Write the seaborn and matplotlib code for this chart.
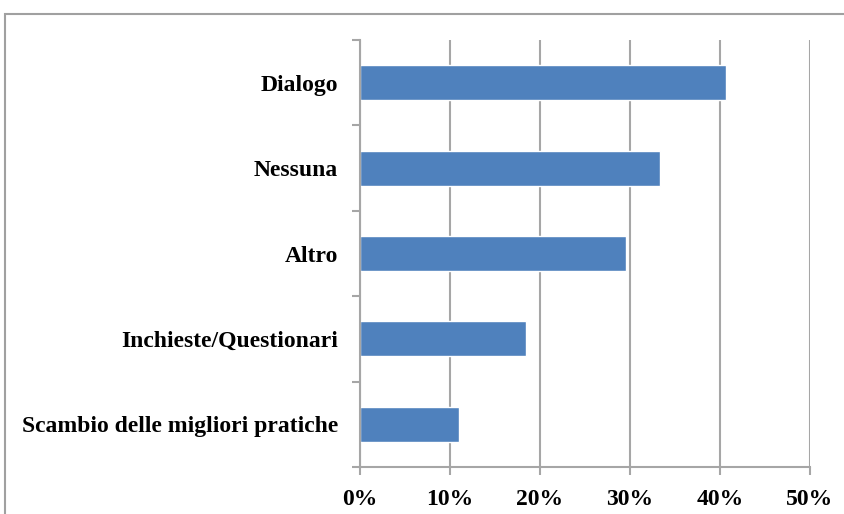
import matplotlib
matplotlib.use("Agg")
import matplotlib.pyplot as plt
import seaborn as sns
import pandas as pd
from matplotlib.patches import Rectangle
from matplotlib.ticker import FixedLocator, PercentFormatter

# dati
categorie = ["Dialogo", "Nessuna", "Altro", "Inchieste/Questionari",
             "Scambio delle migliori pratiche"]
valori = [40.7, 33.3, 29.6, 18.5, 11.0]

df = pd.DataFrame({"Categoria": categorie, "Valore": valori})

sns.set_theme(style="white")
plt.rcParams["font.family"] = ["Liberation Serif", "DejaVu Serif"]

fig = plt.figure(figsize=(8.45, 5.14), dpi=100)
ax = fig.add_axes([360 / 845, 1 - 467 / 514, 450 / 845, 427 / 514])

sns.barplot(data=df, x="Valore", y="Categoria", order=categorie,
            color="#4f81bd", saturation=1, width=0.41, ax=ax)

grid_col = "#a6a6a6"
ax.set_xlim(0, 50)
ax.set_xticks([0, 10, 20, 30, 40, 50])
ax.xaxis.set_major_formatter(PercentFormatter(decimals=0))
ax.set_ylim(len(categorie) - 0.5, -0.5)
ax.grid(axis="x", color=grid_col, linewidth=1.5)
ax.set_axisbelow(True)
ax.set_xlabel("")
ax.set_ylabel("")

for s in ["top", "right"]:
    ax.spines[s].set_visible(False)
for s in ["left", "bottom"]:
    ax.spines[s].set_color(grid_col)
    ax.spines[s].set_linewidth(1.5)

# tacche tra le categorie
ax.yaxis.set_minor_locator(FixedLocator([i - 0.5 for i in range(len(categorie) + 1)]))
ax.tick_params(axis="y", which="major", length=0, pad=16, labelsize=17)
ax.tick_params(axis="y", which="minor", left=True, length=6, width=1.5, color=grid_col)
ax.tick_params(axis="x", which="major", bottom=True, length=6, width=1.5,
               color=grid_col, pad=10, labelsize=17)
for lab in ax.get_yticklabels() + ax.get_xticklabels():
    lab.set_fontweight("bold")
    lab.set_color("black")

# cornice del grafico
fig.patches.append(Rectangle((5 / 845, -0.1), 1.1, 1 - 14 / 514 + 0.1,
                             transform=fig.transFigure, fill=False,
                             edgecolor="#a0a0a0", linewidth=1.5))

fig.savefig("out.png", dpi=100)
